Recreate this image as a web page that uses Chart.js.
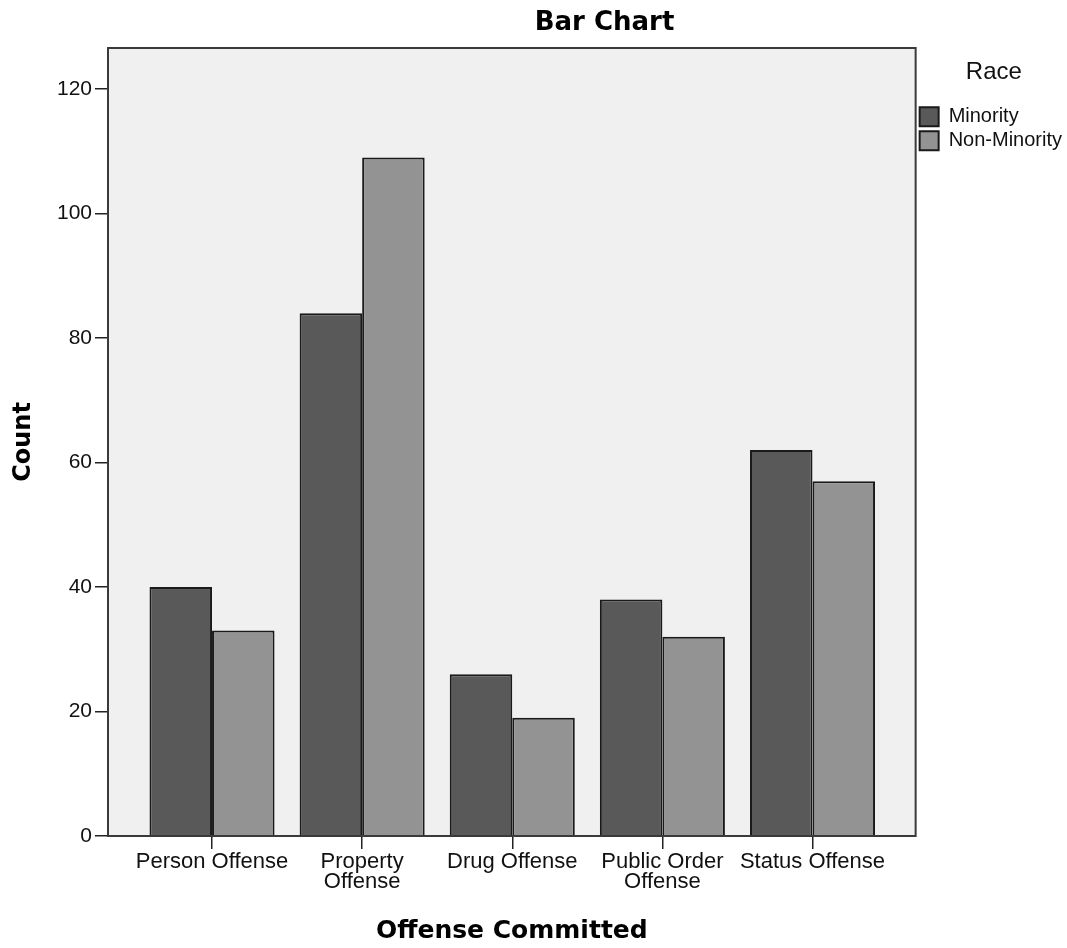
<!DOCTYPE html>
<html lang="en">
  <head>
    <meta charset="UTF-8" />
    <title>Bar Chart</title>
    <script src="https://cdn.jsdelivr.net/npm/chart.js@4.4.1/dist/chart.umd.min.js"></script>
    <style>
      html,
      body {
        margin: 0;
        padding: 0;
        background: white;
      }
      .wrap {
        width: 1067px;
        height: 948px;
      }
    </style>
  </head>
  <body>
    <div class="wrap">
      <canvas id="myChart"></canvas>
    </div>

    <script>
      const categories = [
        "Person Offense",
        "Property Offense",
        "Drug Offense",
        "Public Order Offense",
        "Status Offense",
      ];
      const tickLabels = [
        ["Person Offense"],
        ["Property", "Offense"],
        ["Drug Offense"],
        ["Public Order", "Offense"],
        ["Status Offense"],
      ];
      const minority = [40, 84, 26, 38, 62];
      const nonMinority = [33, 109, 19, 32, 57];
      const yTicks = [0, 20, 40, 60, 80, 100, 120];

      const regular = "'Liberation Sans', Arial, sans-serif";
      const bold = "'DejaVu Sans', sans-serif";

      // grey plot box + frame, like the SPSS output
      const frame = {
        id: "frame",
        beforeDatasetsDraw(chart) {
          const { ctx, chartArea: a } = chart;
          ctx.save();
          ctx.fillStyle = "#f0f0f0";
          ctx.fillRect(a.left, a.top, a.right - a.left, a.bottom - a.top);
          ctx.restore();
        },
        afterDatasetsDraw(chart) {
          const { ctx, chartArea: a } = chart;
          ctx.save();
          ctx.strokeStyle = "#3a3a3a";
          ctx.lineWidth = 2;
          ctx.strokeRect(a.left, a.top, a.right - a.left, a.bottom - a.top);
          ctx.restore();
        },
        afterDraw(chart) {
          const { ctx, chartArea: a } = chart;
          ctx.save();
          ctx.fillStyle = "#000";
          ctx.font = "bold 26px " + bold;
          ctx.textAlign = "center";
          ctx.textBaseline = "middle";
          ctx.fillText("Bar Chart", (a.left + chart.width) / 2 + 17, 23);
          ctx.restore();
        },
      };

      const ctx = document.getElementById("myChart");
      new Chart(ctx, {
        type: "bar",
        data: {
          labels: categories,
          datasets: [
            {
              label: "Minority",
              data: minority.map((v, i) => ({ x: i, y: v })),
              backgroundColor: "#595959",
              borderColor: "#1a1a1a",
              borderWidth: 2,
            },
            {
              label: "Non-Minority",
              data: nonMinority.map((v, i) => ({ x: i, y: v })),
              backgroundColor: "#939393",
              borderColor: "#1a1a1a",
              borderWidth: 2,
            },
          ],
        },
        plugins: [frame],
        options: {
          responsive: true,
          maintainAspectRatio: false,
          animation: false,
          categoryPercentage: 0.833,
          barPercentage: 1,
          layout: {
            padding: { top: 48, left: 0, right: -5, bottom: 0 },
          },
          scales: {
            x: {
              type: "linear",
              offset: false,
              min: -0.693,
              max: 4.687,
              afterBuildTicks: (s) => {
                s.ticks = categories.map((_, i) => ({ value: i }));
              },
              afterFit: (s) => {
                s.height = 112;
              },
              grid: {
                offset: false,
                drawOnChartArea: false,
                drawTicks: true,
                tickLength: 13,
                color: "#222",
                lineWidth: 1.5,
              },
              border: { display: false },
              ticks: {
                autoSkip: false,
                maxRotation: 0,
                padding: 3,
                color: "#111",
                font: { family: regular, size: 22, lineHeight: 0.9 },
                callback: (v) => tickLabels[v],
              },
              title: {
                display: true,
                text: "Offense Committed",
                color: "#000",
                font: { family: bold, size: 25, weight: "bold" },
                padding: { top: 0, bottom: 2 },
              },
            },
            y: {
              min: 0,
              max: 126.6,
              afterBuildTicks: (s) => {
                s.ticks = yTicks.map((v) => ({ value: v }));
              },
              afterFit: (s) => {
                s.width = 108;
              },
              grid: {
                drawOnChartArea: false,
                drawTicks: true,
                tickLength: 13,
                color: "#222",
                lineWidth: 1.5,
              },
              border: { display: false },
              ticks: {
                padding: 3,
                color: "#111",
                font: { family: regular, size: 21 },
              },
              title: {
                display: true,
                text: "Count",
                color: "#000",
                font: { family: bold, size: 24, weight: "bold" },
                padding: { top: 9, bottom: 0 },
              },
            },
          },
          plugins: {
            tooltip: { enabled: false },
            legend: {
              position: "right",
              align: "start",
              title: {
                display: true,
                text: "Race",
                color: "#111",
                font: { family: regular, size: 24 },
                padding: { top: 12, bottom: 14 },
              },
              labels: {
                boxWidth: 19,
                boxHeight: 19,
                padding: 4,
                color: "#111",
                font: { family: regular, size: 20 },
              },
            },
          },
        },
      });
    </script>
  </body>
</html>
